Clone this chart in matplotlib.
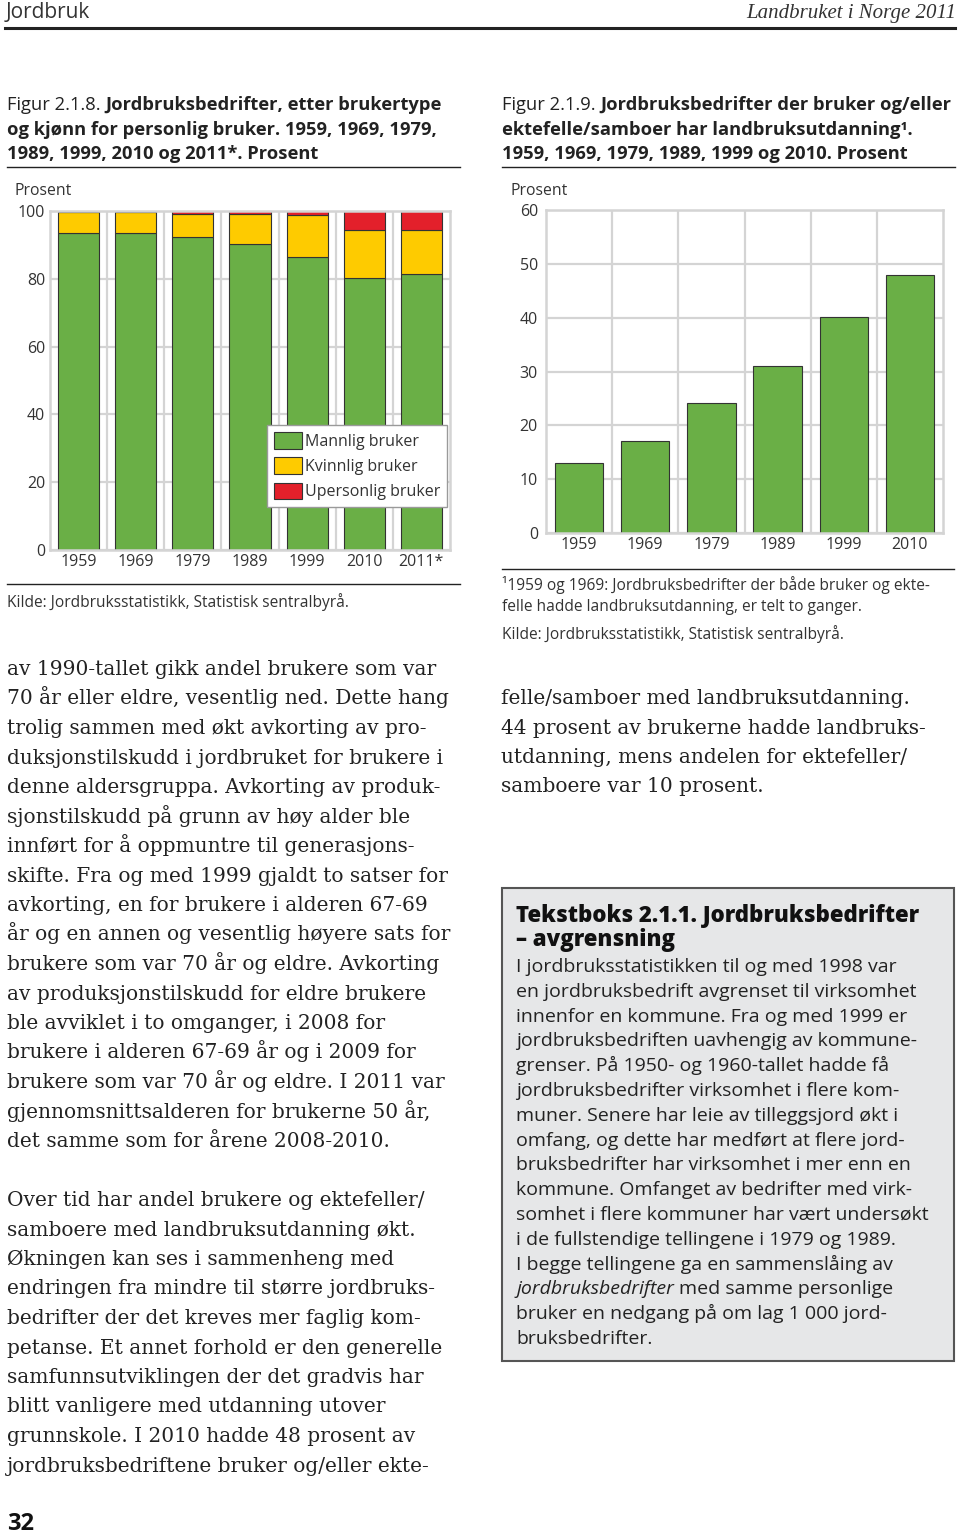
import numpy as np
import matplotlib
matplotlib.use("Agg")
import matplotlib.pyplot as plt
from matplotlib.patches import Rectangle
from matplotlib.lines import Line2D

W, H = 960, 1537

# Figur 2.1.8 - brukertype og kjønn
years_a = ["1959", "1969", "1979", "1989", "1999", "2010", "2011*"]
mannlig = [93.6, 93.6, 92.4, 90.3, 86.5, 80.3, 81.3]
kvinnlig = [6.0, 6.0, 6.6, 8.9, 12.4, 14.1, 13.1]
upersonlig = [0.4, 0.4, 1.0, 0.8, 1.1, 5.6, 5.6]
labels_a = ["Mannlig bruker", "Kvinnlig bruker", "Upersonlig bruker"]

# Figur 2.1.9 - landbruksutdanning
years_b = ["1959", "1969", "1979", "1989", "1999", "2010"]
utdanning = [13.0, 17.1, 24.1, 31.1, 40.1, 48.0]

GREEN = "#6aaf46"
YELLOW = "#fecb00"
RED = "#e3202b"
GRID = "#d4d4d4"
EDGE = "#333333"
INK = "#222222"
SANS = "Open Sans"
SERIF = "DejaVu Serif"

body_left = [
    "av 1990-tallet gikk andel brukere som var",
    "70 år eller eldre, vesentlig ned. Dette hang",
    "trolig sammen med økt avkorting av pro-",
    "duksjonstilskudd i jordbruket for brukere i",
    "denne aldersgruppa. Avkorting av produk-",
    "sjonstilskudd på grunn av høy alder ble",
    "innført for å oppmuntre til generasjons-",
    "skifte. Fra og med 1999 gjaldt to satser for",
    "avkorting, en for brukere i alderen 67-69",
    "år og en annen og vesentlig høyere sats for",
    "brukere som var 70 år og eldre. Avkorting",
    "av produksjonstilskudd for eldre brukere",
    "ble avviklet i to omganger, i 2008 for",
    "brukere i alderen 67-69 år og i 2009 for",
    "brukere som var 70 år og eldre. I 2011 var",
    "gjennomsnittsalderen for brukerne 50 år,",
    "det samme som for årene 2008-2010.",
]
body_left2 = [
    "Over tid har andel brukere og ektefeller/",
    "samboere med landbruksutdanning økt.",
    "Økningen kan ses i sammenheng med",
    "endringen fra mindre til større jordbruks-",
    "bedrifter der det kreves mer faglig kom-",
    "petanse. Et annet forhold er den generelle",
    "samfunnsutviklingen der det gradvis har",
    "blitt vanligere med utdanning utover",
    "grunnskole. I 2010 hadde 48 prosent av",
    "jordbruksbedriftene bruker og/eller ekte-",
]
body_right = [
    "felle/samboer med landbruksutdanning.",
    "44 prosent av brukerne hadde landbruks-",
    "utdanning, mens andelen for ektefeller/",
    "samboere var 10 prosent.",
]
box_lines = [
    "I jordbruksstatistikken til og med 1998 var",
    "en jordbruksbedrift avgrenset til virksomhet",
    "innenfor en kommune. Fra og med 1999 er",
    "jordbruksbedriften uavhengig av kommune-",
    "grenser. På 1950- og 1960-tallet hadde få",
    "jordbruksbedrifter virksomhet i flere kom-",
    "muner. Senere har leie av tilleggsjord økt i",
    "omfang, og dette har medført at flere jord-",
    "bruksbedrifter har virksomhet i mer enn en",
    "kommune. Omfanget av bedrifter med virk-",
    "somhet i flere kommuner har vært undersøkt",
    "i de fullstendige tellingene i 1979 og 1989.",
    "I begge tellingene ga en sammenslåing av",
    None,
    "bruker en nedgang på om lag 1 000 jord-",
    "bruksbedrifter.",
]

fig = plt.figure(figsize=(W / 100, H / 100), dpi=100)
renderer = fig.canvas.get_renderer()


def px(x, y):
    return x / W, 1 - y / H


def txt(x, y, s, size, **kw):
    kw.setdefault("family", SANS)
    kw.setdefault("color", INK)
    kw.setdefault("va", "baseline")
    return fig.text(*px(x, y), s, fontsize=size, **kw)


def runs(x, y, parts, size, **kw):
    # draws pieces of one line with different styles after each other
    for s, extra in parts:
        t = txt(x, y, s, size, **kw, **extra)
        x += t.get_window_extent(renderer=renderer).width + size * 1.39 * 0.26


def hline(x0, x1, y, lw=1.0, color=INK):
    fig.add_artist(Line2D([x0 / W, x1 / W], [1 - y / H, 1 - y / H],
                          color=color, lw=lw, transform=fig.transFigure))


# ---- page header
txt(6, 18, "Jordbruk", 15, color="#333333")
txt(956, 18, "Landbruket i Norge 2011", 15, family="Liberation Serif",
    style="italic", ha="right", color="#333333")
hline(5, 955, 28, lw=2.2, color="#222222")

# ---- figure titles
tsize = 13.2
runs(7, 110, [("Figur 2.1.8.", {}), ("Jordbruksbedrifter, etter brukertype", {"weight": "bold"})], tsize)
txt(7, 135, "og kjønn for personlig bruker. 1959, 1969, 1979,", tsize, weight="bold")
txt(7, 159, "1989, 1999, 2010 og 2011*. Prosent", tsize, weight="bold")
hline(7, 460, 167, lw=1.0)

runs(502, 110, [("Figur 2.1.9.", {}), ("Jordbruksbedrifter der bruker og/eller", {"weight": "bold"})], tsize)
txt(502, 135, "ektefelle/samboer har landbruksutdanning¹.", tsize, weight="bold")
txt(502, 159, "1959, 1969, 1979, 1989, 1999 og 2010. Prosent", tsize, weight="bold")
hline(502, 955, 167, lw=1.0)

txt(15, 195, "Prosent", 11.3, color="#333333")
txt(511, 195, "Prosent", 11.3, color="#333333")


def style_axes(ax, n, ymax, ystep, ypad):
    ax.set_xlim(-0.5, n - 0.5)
    ax.set_ylim(0, ymax)
    ax.set_axisbelow(True)
    ax.set_yticks(np.arange(0, ymax + 1, ystep))
    ax.set_xticks(np.arange(0.5, n - 1, 1), minor=True)
    ax.yaxis.grid(True, color=GRID, lw=1.6)
    ax.xaxis.grid(True, which="minor", color=GRID, lw=1.6)
    for sp in ax.spines.values():
        sp.set_color(GRID)
        sp.set_linewidth(1.8)
    ax.tick_params(which="both", length=0, labelsize=11.5, colors="#333333")
    ax.tick_params(axis="y", pad=ypad)
    ax.tick_params(axis="x", pad=3.2)
    for lab in ax.get_xticklabels() + ax.get_yticklabels():
        lab.set_family(SANS)


# ---- left chart
ax1 = fig.add_axes([50 / W, 1 - 550 / H, 400 / W, 339 / H])
xa = np.arange(len(years_a))
bottoms = np.zeros(len(years_a))
handles = []
for vals, col in zip([mannlig, kvinnlig, upersonlig], [GREEN, YELLOW, RED]):
    b = ax1.bar(xa, vals, 0.72, bottom=bottoms, color=col, edgecolor=EDGE, lw=0.8)
    handles.append(b)
    bottoms += np.array(vals)
ax1.set_xticks(xa)
ax1.set_xticklabels(years_a)
style_axes(ax1, len(years_a), 100, 20, 3.6)

leg = ax1.legend(handles, labels_a, loc="upper left",
                 bbox_to_anchor=(267 / W, 1 - 425 / H), bbox_transform=fig.transFigure,
                 frameon=True, fancybox=False, framealpha=1, borderaxespad=0,
                 handlelength=1.75, handleheight=1.2, labelspacing=0.48,
                 handletextpad=0.15, borderpad=0.45, prop={"family": SANS, "size": 11.5})
leg.get_frame().set_edgecolor("#9a9a9a")
leg.get_frame().set_linewidth(1.0)
for t in leg.get_texts():
    t.set_color("#333333")

hline(7, 460, 584, lw=1.0)
txt(7, 607, "Kilde: Jordbruksstatistikk, Statistisk sentralbyrå.", 11.2, color="#333333")

# ---- right chart
ax2 = fig.add_axes([546 / W, 1 - 533 / H, 397 / W, 323 / H])
xb = np.arange(len(years_b))
ax2.bar(xb, utdanning, 0.73, color=GREEN, edgecolor=EDGE, lw=0.8)
ax2.set_xticks(xb)
ax2.set_xticklabels(years_b)
style_axes(ax2, len(years_b), 60, 10, 5.8)

hline(502, 954, 569, lw=1.0)
txt(502, 590, "¹1959 og 1969: Jordbruksbedrifter der både bruker og ekte-", 11.2, color="#333333")
txt(502, 611, "felle hadde landbruksutdanning, er telt to ganger.", 11.2, color="#333333")
txt(502, 639, "Kilde: Jordbruksstatistikk, Statistisk sentralbyrå.", 11.2, color="#333333")

# ---- body text
bsize = 14.5
lead = 29.5
for i, line in enumerate(body_left):
    txt(7, 675 + i * lead, line, bsize, family=SERIF)
for i, line in enumerate(body_left2):
    txt(7, 1206 + i * lead, line, bsize, family=SERIF)
for i, line in enumerate(body_right):
    txt(501, 704 + i * lead, line, bsize, family=SERIF)

# ---- text box
fig.add_artist(Rectangle(px(502, 1361), 452 / W, 473 / H, transform=fig.transFigure,
                         facecolor="#e6e7e8", edgecolor="#555555", lw=1.5))
txt(516, 922, "Tekstboks 2.1.1. Jordbruksbedrifter", 16, weight="heavy", color="#111111")
txt(516, 946, "– avgrensning", 16, weight="heavy", color="#111111")
for i, line in enumerate(box_lines):
    y = 972 + i * 24.8
    if line is None:
        runs(516, y, [("jordbruksbedrifter", {"style": "italic"}), ("med samme personlige", {})], 14)
    else:
        txt(516, y, line, 14)

# ---- page number
txt(7, 1530, "32", 17, weight="bold", color="#111111")

fig.savefig("out.png", dpi=100)
